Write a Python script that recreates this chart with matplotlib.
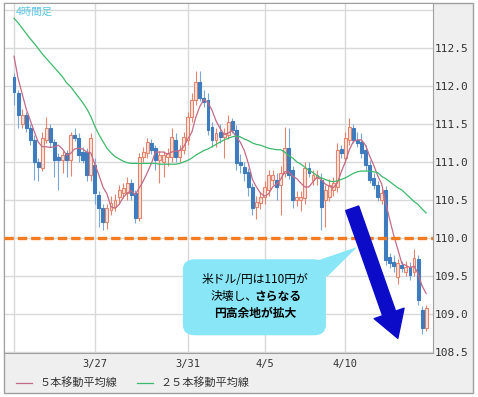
import matplotlib
matplotlib.use("Agg")
import matplotlib.pyplot as plt
import numpy as np
from matplotlib.patches import FancyBboxPatch, FancyArrowPatch, Polygon, Rectangle
from matplotlib.lines import Line2D

plt.rcParams['font.family'] = ['Noto Sans CJK JP', 'DejaVu Sans']

# 4-hour USD/JPY candles
opens = [112.12, 111.91, 111.50, 111.62, 111.45, 111.29, 111.00, 110.92, 111.29, 111.45,
         111.26, 111.07, 111.03, 111.12, 111.03, 111.36, 111.32, 111.13, 111.13, 110.83,
         110.96, 110.57, 110.39, 110.21, 110.37, 110.41, 110.54, 110.59, 110.59, 110.72,
         110.59, 110.26, 111.07, 111.12, 111.25, 111.18, 111.03, 111.00, 111.07, 111.07,
         111.29, 111.07, 111.16, 111.29, 111.59, 111.82, 112.05, 111.84, 111.82, 111.46,
         111.29, 111.39, 111.33, 111.36, 111.54, 111.42, 111.00, 110.93, 110.87, 110.67,
         110.41, 110.46, 110.54, 110.63, 110.76, 110.76, 110.70, 110.86, 111.18, 110.89,
         110.50, 110.50, 110.53, 110.92, 110.76, 110.79, 110.76, 110.50, 110.54, 110.63,
         110.67, 111.17, 111.05, 111.29, 111.45, 111.29, 111.26, 111.16, 110.96, 110.79,
         110.70, 110.50, 110.63, 109.75, 109.68, 109.49, 109.64, 109.55, 109.62, 109.55,
         109.72, 109.05, 108.82]
highs = [112.17, 111.95, 111.70, 111.66, 111.50, 111.35, 111.05, 111.40, 111.59, 111.50,
         111.30, 111.12, 111.15, 111.16, 111.40, 111.45, 111.38, 111.20, 111.18, 111.38,
         111.05, 110.62, 110.45, 110.45, 110.55, 110.58, 110.70, 110.72, 110.80, 110.78,
         110.63, 111.12, 111.20, 111.32, 111.30, 111.22, 111.14, 111.15, 111.18, 111.45,
         111.38, 111.22, 111.40, 111.65, 111.90, 112.20, 112.20, 111.95, 111.90, 111.52,
         111.45, 111.50, 111.45, 111.62, 111.58, 111.48, 111.10, 111.00, 110.92, 110.72,
         110.55, 110.60, 110.75, 110.90, 110.90, 110.85, 110.95, 111.46, 111.45, 110.95,
         110.62, 110.62, 111.00, 111.00, 110.90, 110.90, 110.85, 110.70, 110.78, 110.80,
         111.25, 111.22, 111.40, 111.58, 111.50, 111.40, 111.38, 111.22, 111.02, 110.85,
         110.75, 110.65, 110.68, 109.80, 109.78, 109.72, 109.70, 109.70, 109.68, 109.85,
         109.78, 109.10, 109.12]
lows = [111.75, 111.45, 111.45, 111.40, 111.22, 110.76, 110.75, 110.88, 111.25, 111.20,
        110.80, 110.63, 110.85, 110.80, 110.82, 111.28, 111.00, 110.98, 110.75, 110.75,
        110.45, 110.15, 110.10, 110.12, 110.30, 110.35, 110.45, 110.52, 110.50, 110.50,
        110.20, 110.22, 111.00, 111.05, 111.10, 110.90, 110.72, 110.80, 110.95, 111.00,
        111.00, 111.00, 111.10, 111.22, 111.52, 111.75, 111.80, 111.72, 111.35, 111.20,
        111.20, 111.25, 111.05, 111.30, 111.38, 110.90, 110.85, 110.75, 110.55, 110.30,
        110.25, 110.38, 110.45, 110.55, 110.70, 110.50, 110.30, 110.80, 110.78, 110.40,
        110.42, 110.35, 110.45, 110.80, 110.70, 110.70, 110.10, 110.15, 110.48, 110.55,
        110.60, 111.05, 110.98, 111.22, 111.25, 111.20, 111.05, 110.90, 110.72, 110.65,
        110.48, 110.45, 109.65, 109.60, 109.55, 109.40, 109.55, 109.50, 109.45, 109.50,
        109.12, 108.74, 108.78]
closes = [111.92, 111.62, 111.62, 111.45, 111.29, 111.00, 110.93, 111.32, 111.45, 111.26,
          111.03, 111.03, 111.09, 111.03, 111.36, 111.32, 111.09, 111.03, 110.83, 111.32,
          110.59, 110.39, 110.21, 110.39, 110.46, 110.50, 110.63, 110.66, 110.72, 110.57,
          110.26, 111.07, 111.13, 111.26, 111.16, 111.03, 111.09, 111.09, 111.12, 111.33,
          111.07, 111.16, 111.33, 111.59, 111.82, 112.05, 111.84, 111.79, 111.42, 111.29,
          111.38, 111.33, 111.38, 111.53, 111.42, 110.99, 110.96, 110.86, 110.67, 110.39,
          110.47, 110.54, 110.67, 110.83, 110.83, 110.67, 110.86, 111.18, 110.83, 110.50,
          110.54, 110.54, 110.92, 110.86, 110.83, 110.83, 110.41, 110.63, 110.70, 110.72,
          111.16, 111.12, 111.32, 111.46, 111.29, 111.25, 111.12, 110.96, 110.76, 110.70,
          110.54, 110.59, 109.71, 109.67, 109.63, 109.67, 109.61, 109.62, 109.51, 109.74,
          109.18, 108.82, 109.08]

ma5 = [112.39, 112.10, 111.90, 111.70, 111.55, 111.40, 111.26, 111.20, 111.20, 111.19,
       111.20, 111.22, 111.17, 111.09, 111.11, 111.17, 111.18, 111.17, 111.13, 111.12,
       110.97, 110.83, 110.67, 110.58, 110.41, 110.39, 110.44, 110.53, 110.59, 110.62,
       110.57, 110.66, 110.75, 110.86, 110.98, 111.13, 111.13, 111.13, 111.10, 111.13,
       111.14, 111.15, 111.20, 111.30, 111.39, 111.59, 111.73, 111.82, 111.78, 111.68,
       111.54, 111.44, 111.36, 111.38, 111.41, 111.33, 111.26, 111.15, 110.98, 110.77,
       110.67, 110.59, 110.55, 110.58, 110.67, 110.71, 110.77, 110.87, 110.87, 110.81,
       110.78, 110.72, 110.67, 110.67, 110.74, 110.80, 110.77, 110.71, 110.68, 110.66,
       110.72, 110.87, 111.00, 111.16, 111.27, 111.29, 111.29, 111.22, 111.08, 110.96,
       110.82, 110.71, 110.46, 110.24, 110.03, 109.85, 109.66, 109.64, 109.61, 109.63,
       109.53, 109.37, 109.27]
ma25 = [112.89, 112.83, 112.76, 112.69, 112.62, 112.56, 112.49, 112.42, 112.36, 112.30,
        112.24, 112.18, 112.12, 112.04, 111.99, 111.92, 111.85, 111.78, 111.70, 111.60,
        111.47, 111.36, 111.27, 111.18, 111.12, 111.07, 111.04, 111.01, 110.99, 110.98,
        110.98, 110.98, 110.98, 110.98, 110.98, 110.98, 110.97, 110.97, 110.97, 110.97,
        110.97, 110.98, 111.00, 111.02, 111.05, 111.09, 111.12, 111.15, 111.17, 111.20,
        111.23, 111.26, 111.29, 111.31, 111.33, 111.34, 111.33, 111.30, 111.28, 111.25,
        111.23, 111.22, 111.20, 111.18, 111.17, 111.16, 111.16, 111.13, 111.08, 111.05,
        111.00, 110.97, 110.93, 110.89, 110.86, 110.82, 110.79, 110.77, 110.75, 110.74,
        110.75, 110.77, 110.79, 110.82, 110.85, 110.87, 110.88, 110.88, 110.88, 110.87,
        110.86, 110.81, 110.78, 110.74, 110.70, 110.66, 110.63, 110.58, 110.53, 110.48,
        110.44, 110.38, 110.33]

tick_pos = [0, 20, 43, 62, 82]
tick_labels = ['', '3/27', '3/31', '4/5', '4/10']
price_ticks = [108.5, 109.0, 109.5, 110.0, 110.5, 111.0, 111.5, 112.0, 112.5, 113.0]
level = 110.0

W, H = 478, 397
fig = plt.figure(figsize=(W / 100, H / 100), dpi=100)
fig.patch.set_facecolor('white')
fig.patches.append(Rectangle((4 / W, 4 / H), 469 / W, 390 / H, transform=fig.transFigure,
                             facecolor='#efefef', edgecolor='#a0a0a0', lw=1, zorder=-5))

ax = fig.add_axes([4 / W, 44 / H, 429 / W, 350 / H])
ax.set_zorder(2)
ax.set_facecolor('white')

o = np.array(opens); h = np.array(highs); l = np.array(lows); c = np.array(closes)
x = np.arange(len(c))
up = c >= o
dn = ~up

ax.vlines(x[up], l[up], h[up], color='#e4846c', lw=0.8, zorder=3)
ax.vlines(x[dn], l[dn], h[dn], color='#7ba7d6', lw=0.8, zorder=3)
ax.bar(x[up], c[up] - o[up], bottom=o[up], width=0.72, facecolor='#fde5dd',
       edgecolor='#e4846c', lw=0.8, zorder=4)
ax.bar(x[dn], c[dn] - o[dn], bottom=o[dn], width=0.72, facecolor='#3f7cbd',
       edgecolor='#3f7cbd', lw=0.8, zorder=4)

ax.plot(x, ma5, color='#c46a86', lw=0.9, zorder=5)
ax.plot(x, ma25, color='#3cb96c', lw=0.9, zorder=5)

ax.axhline(level, color='#f47b20', lw=2.4, dashes=(2.8, 1.2), zorder=6)

ax.set_xlim(-2.48, 103.7)
ax.set_ylim(108.487, 113.09)
ax.set_xticks(tick_pos)
ax.set_xticklabels(tick_labels, family='DejaVu Sans Mono', fontsize=7.5, color='#333333')
ax.set_yticks(price_ticks)
ax.set_yticklabels([f'{v:.1f}' if v < 113 else '' for v in price_ticks],
                   family='DejaVu Sans Mono', fontsize=8, color='#333333')
ax.yaxis.tick_right()
ax.tick_params(axis='both', length=0)
ax.tick_params(axis='y', pad=1.5)
ax.tick_params(axis='x', pad=4)
ax.grid(True, color='#d9d9d9', lw=1, zorder=0)
ax.set_axisbelow(True)
for s in ax.spines.values():
    s.set_color('#a0a0a0')

# callout box
ax.add_patch(Polygon([(73.8, 109.68), (77.5, 109.49), (84.9, 109.88)], closed=True,
                     facecolor='#88e6f6', edgecolor='none', zorder=7))
ax.add_patch(FancyBboxPatch((41.8, 108.72), 35.4, 1.0,
                            boxstyle='round,pad=0,rounding_size=3',
                            mutation_aspect=0.045, facecolor='#88e6f6',
                            edgecolor='none', zorder=7))
ax.text(59.6, 109.45, '米ドル/円は110円が', ha='center', va='center', fontsize=8.5, zorder=8)
ax.text(60.2, 109.23, '決壊し、', ha='right', va='center', fontsize=8.5, zorder=8)
ax.text(59.4, 109.23, 'さらなる', ha='left', va='center', fontsize=8.5,
        fontweight='bold', zorder=8)
ax.text(59.6, 109.01, '円高余地が拡大', ha='center', va='center', fontsize=8.5,
        fontweight='bold', zorder=8)

# big down arrow
ax.add_patch(FancyArrowPatch((83.7, 110.39), (95.0, 108.68),
                             arrowstyle='simple,head_length=1.0,head_width=1.2,tail_width=0.52',
                             mutation_scale=19, color='#0c0cc8', shrinkA=0, shrinkB=0, zorder=9))

ax.text(0.028, 0.988, '4時間足', transform=ax.transAxes, ha='left', va='top',
        fontsize=7.5, color='#5cc6e6')

handles = [Line2D([], [], color='#c46a86', lw=0.9), Line2D([], [], color='#3cb96c', lw=0.9)]
fig.legend(handles, ['５本移動平均線', '２５本移動平均線'], loc='center left',
           bbox_to_anchor=(6 / W, 1 - 383 / H), ncol=2, frameon=False, fontsize=8,
           handlelength=1.4, handletextpad=0.7, columnspacing=1.8, labelcolor='#333333')

fig.savefig('out.png', dpi=100)
